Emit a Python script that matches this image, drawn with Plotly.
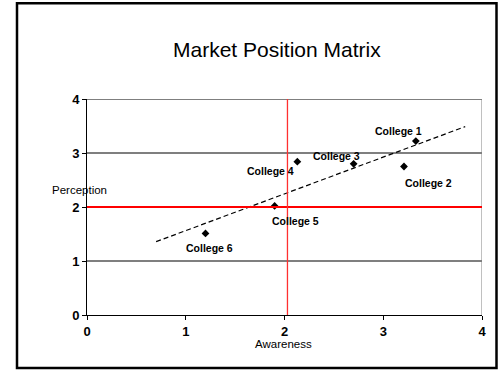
import numpy as np
import plotly.graph_objects as go

# ---- data ----
colleges = ["College 1", "College 2", "College 3", "College 4", "College 5", "College 6"]
awareness = [3.33, 3.21, 2.70, 2.13, 1.90, 1.20]
perception = [3.22, 2.75, 2.80, 2.84, 2.02, 1.51]
trend_x_range = [0.70, 3.83]
awareness_threshold = 2.03
perception_threshold = 2.0
x_ticks = [0, 1, 2, 3, 4]
y_ticks = [0, 1, 2, 3, 4]

# ---- styles / label offsets (pixels) ----
label_offsets = {
    "College 1": (-17, 10),
    "College 2": (25, -16),
    "College 3": (-17, 8),
    "College 4": (-27, -9),
    "College 5": (21, -15),
    "College 6": (4, -15),
}

W, H = 499, 372
L, R, T, B = 87, 482, 98.5, 315.3
font_family = "Liberation Sans, Arial, sans-serif"

slope, intercept = np.polyfit(awareness, perception, 1)
tx = np.array(trend_x_range)
ty = slope * tx + intercept

fig = go.Figure()
fig.add_trace(go.Scatter(x=tx, y=ty, mode="lines",
                         line=dict(color="black", width=1.2, dash="5px,3px"),
                         hoverinfo="skip", showlegend=False))
fig.add_trace(go.Scatter(x=awareness, y=perception, mode="markers",
                         marker=dict(symbol="diamond", size=6, color="black"),
                         showlegend=False))

pw = R - L
ph = B - T
def px(xp):
    return (xp - L) / pw
def py(yp):
    return (B - yp) / ph

shapes = []
# grid lines
for yv in y_ticks[1:]:
    shapes.append(dict(type="line", xref="x", yref="y", x0=0, x1=4, y0=yv, y1=yv,
                       line=dict(color="#000000", width=1.1), layer="below"))
# right border of plot
shapes.append(dict(type="line", xref="x", yref="y", x0=4, x1=4, y0=0, y1=4,
                   line=dict(color="#808080", width=1), layer="below"))
# thresholds
shapes.append(dict(type="line", xref="x", yref="y", x0=0, x1=4,
                   y0=perception_threshold, y1=perception_threshold,
                   line=dict(color="#FF0000", width=2)))
shapes.append(dict(type="line", xref="x", yref="y", x0=awareness_threshold, x1=awareness_threshold,
                   y0=0, y1=4, line=dict(color="#FF3030", width=1.3)))
# outer frame
shapes.append(dict(type="rect", xref="paper", yref="paper",
                   x0=px(17), x1=px(496.5), y0=py(2.5), y1=py(368.5),
                   line=dict(color="black", width=2.5), layer="below"))

annotations = []
for name, xv, yv in zip(colleges, awareness, perception):
    dx, dy = label_offsets[name]
    annotations.append(dict(x=xv, y=yv, xref="x", yref="y", text="<b>%s</b>" % name,
                            showarrow=False, xshift=dx, yshift=dy,
                            font=dict(family=font_family, size=10.5, color="black")))
annotations.append(dict(text="Market Position Matrix", xref="paper", yref="paper",
                        x=px(276.5), y=py(35), showarrow=False,
                        font=dict(family=font_family, size=21, color="black")))
annotations.append(dict(text="Perception", xref="paper", yref="paper",
                        x=px(50), y=py(190), showarrow=False,
                        font=dict(family=font_family, size=11.5, color="black")))
annotations.append(dict(text="Awareness", xref="paper", yref="paper",
                        x=px(283), y=py(352), showarrow=False,
                        font=dict(family=font_family, size=11.5, color="black")))

fig.update_layout(
    width=W, height=H,
    margin=dict(l=L, r=W - R, t=T, b=H - B, pad=0),
    paper_bgcolor="white", plot_bgcolor="white",
    shapes=shapes, annotations=annotations,
    xaxis=dict(range=[0, 4], tickvals=x_ticks, showgrid=False, zeroline=False,
               showline=True, linecolor="black", linewidth=1,
               ticks="outside", ticklen=4, tickcolor="black",
               tickfont=dict(family=font_family, size=13, color="black", weight="bold"),
               fixedrange=True),
    yaxis=dict(range=[0, 4], tickvals=y_ticks, showgrid=False, zeroline=False,
               showline=True, linecolor="black", linewidth=1, mirror=False,
               ticks="outside", ticklen=4, tickcolor="black",
               tickfont=dict(family=font_family, size=13, color="black", weight="bold"),
               fixedrange=True),
)

fig.write_html("out.html")
